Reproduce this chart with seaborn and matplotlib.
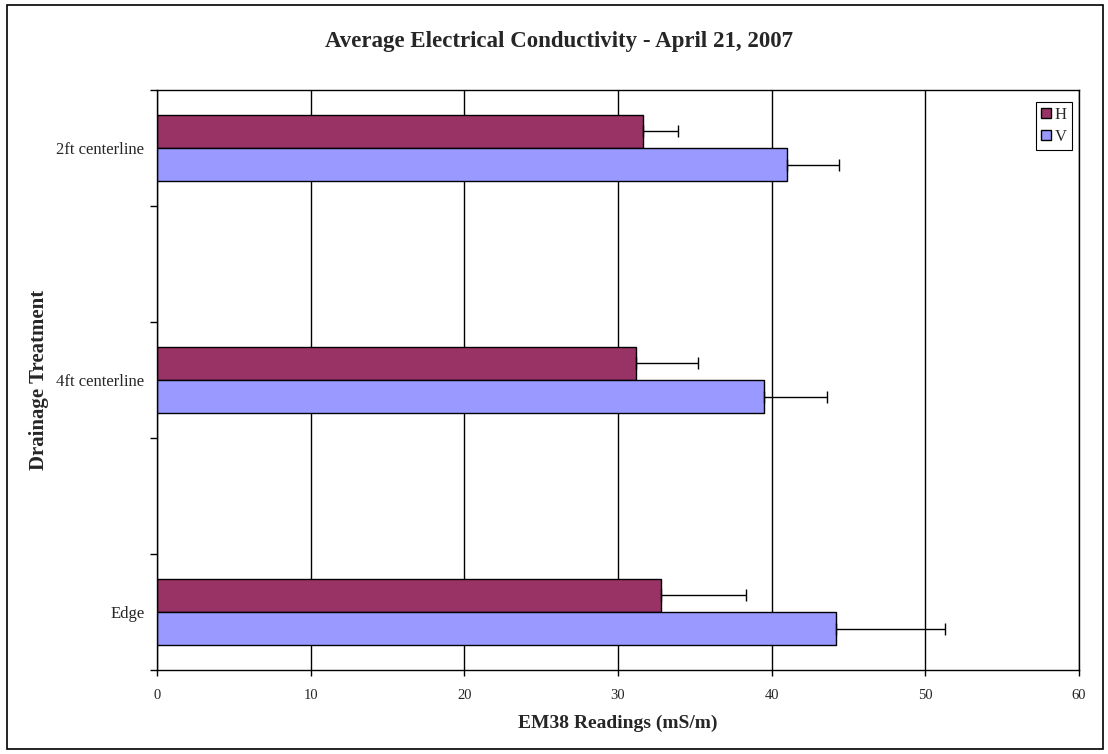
import pandas as pd
import matplotlib
matplotlib.use("Agg")
import matplotlib.pyplot as plt
from matplotlib.patches import Rectangle
import seaborn as sns

treatments = ["2ft centerline", "4ft centerline", "Edge"]
h_means = [31.6, 31.2, 32.8]
h_err = [2.3, 4.0, 5.5]
v_means = [41.0, 39.5, 44.2]
v_err = [3.4, 4.1, 7.1]

df = pd.DataFrame({
    "treatment": treatments * 2,
    "reading": h_means + v_means,
    "orient": ["H"] * 3 + ["V"] * 3,
})
errs = {"H": h_err, "V": v_err}

# Excel leaves an empty category slot between each treatment
order = [treatments[0], "_gap1", treatments[1], "_gap2", treatments[2]]

sns.set_style("white")
plt.rcParams["font.family"] = ["Liberation Serif", "DejaVu Serif"]

fig = plt.figure(figsize=(11.08, 7.54), dpi=100)
ax = fig.add_axes([157 / 1108, 1 - 670 / 754, (1079 - 157) / 1108, (670 - 90) / 754])

sns.barplot(data=df, y="treatment", x="reading", hue="orient", order=order,
            hue_order=["H", "V"], palette={"H": "#993366", "V": "#9999FF"},
            orient="h", width=0.57, edgecolor="black", linewidth=1,
            saturation=1, errorbar=None, ax=ax, zorder=2)

for cont, lvl in zip(ax.containers, ["H", "V"]):
    ys = [p.get_y() + p.get_height() / 2 for p in cont.patches]
    xs = [p.get_width() for p in cont.patches]
    e = errs[lvl]
    ax.errorbar(xs, ys, xerr=[[0] * len(e), e], fmt="none", ecolor="black",
                elinewidth=1, capsize=4.5, capthick=1, zorder=3)

ax.set_xlim(0, 60)
ax.set_xticks(range(0, 61, 10))
ax.set_ylim(4.5, -0.5)
ax.set_yticks([-0.5, 0.5, 1.5, 2.5, 3.5, 4.5])
ax.set_yticklabels([])
ax.set_yticks([0, 2, 4], minor=True)
ax.set_yticklabels(treatments, minor=True)
ax.tick_params(axis="y", which="major", left=True, length=5, width=1,
               color="black", direction="out")
ax.tick_params(axis="y", which="minor", left=False, length=0, pad=9, labelsize=12)
ax.tick_params(axis="x", bottom=True, length=4, width=1, color="black",
               direction="out", pad=10, labelsize=10.5)
ax.xaxis.grid(True, color="black", linewidth=1, zorder=0)
ax.set_axisbelow(True)
for s in ax.spines.values():
    s.set_visible(True)
    s.set_color("black")
    s.set_linewidth(1)

ax.set_xlabel("EM38 Readings (mS/m)", fontsize=14, fontweight="bold", labelpad=9)
ax.set_ylabel("Drainage Treatment", fontsize=15, fontweight="bold", labelpad=5)
fig.text(559 / 1108, 1 - 41 / 754, "Average Electrical Conductivity - April 21, 2007",
         ha="center", va="center", fontsize=16.5, fontweight="bold")

leg = ax.legend(loc="upper right", bbox_to_anchor=(1072 / 1108, 1 - 102 / 754),
                bbox_transform=fig.transFigure, borderaxespad=0, fancybox=False,
                framealpha=1, edgecolor="black", fontsize=12, handlelength=0.6,
                handleheight=0.6, handletextpad=0.25, labelspacing=0.35, borderpad=0.3,
                title=None)
leg.get_frame().set_linewidth(0.8)

fig.add_artist(Rectangle((7 / 1108, 1 - 749 / 754), 1096 / 1108, 744 / 754,
                         transform=fig.transFigure, fill=False, edgecolor="black",
                         linewidth=1.2))

fig.savefig("out.png", dpi=100)
